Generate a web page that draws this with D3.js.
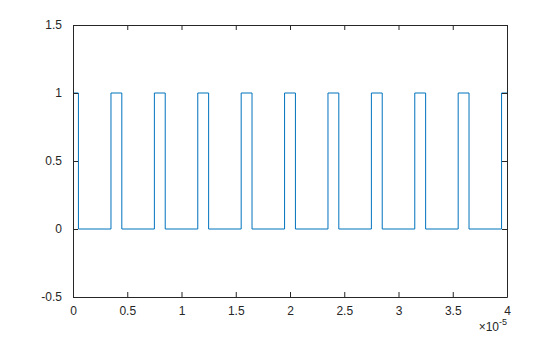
<!DOCTYPE html>
<html>
<head>
<meta charset="utf-8">
<style>
  body { margin: 0; background: #fff; }
  svg { display: block; font-family: "Liberation Sans", Arial, sans-serif; }
</style>
</head>
<body>
<svg width="560" height="337"></svg>
<script src="https://d3js.org/d3.v7.min.js"></script>
<script>
// time in units of 1e-5 s, signal level
var times = [0, 0.05, 0.05, 0.35, 0.35, 0.45, 0.45, 0.75, 0.75, 0.85, 0.85,
             1.15, 1.15, 1.25, 1.25, 1.55, 1.55, 1.65, 1.65, 1.95, 1.95,
             2.05, 2.05, 2.35, 2.35, 2.45, 2.45, 2.75, 2.75, 2.85, 2.85,
             3.15, 3.15, 3.25, 3.25, 3.55, 3.55, 3.65, 3.65, 3.95, 3.95, 4.0];
var levels = [1, 1, 0, 0, 1, 1, 0, 0, 1, 1, 0,
              0, 1, 1, 0, 0, 1, 1, 0, 0, 1,
              1, 0, 0, 1, 1, 0, 0, 1, 1, 0,
              0, 1, 1, 0, 0, 1, 1, 0, 0, 1, 1];
var xTicks = [0, 0.5, 1, 1.5, 2, 2.5, 3, 3.5, 4];
var yTicks = [-0.5, 0, 0.5, 1, 1.5];

var svg = d3.select("svg");
var plotLeft = 73, plotRight = 507, plotTop = 25, plotBottom = 297;

var x = d3.scaleLinear().domain([0, 4]).range([plotLeft, plotRight]);
var y = d3.scaleLinear().domain([-0.5, 1.5]).range([plotBottom, plotTop]);

var pts = times.map(function(t, i) { return [t, levels[i]]; });

// signal
svg.append("path")
    .datum(pts)
    .attr("fill", "none")
    .attr("stroke", "#0072BD")
    .attr("stroke-width", 1)
    .attr("d", d3.line().x(function(d) { return x(d[0]); }).y(function(d) { return y(d[1]); }));

// axes, ticks pointing inward, box on
var tl = 5;
var fmt = function(d) { return String(d); };
svg.append("g").attr("transform", "translate(0," + plotBottom + ")")
    .call(d3.axisBottom(x).tickValues(xTicks).tickSizeInner(-tl).tickSizeOuter(0).tickPadding(9).tickFormat(fmt));
svg.append("g").attr("transform", "translate(0," + plotTop + ")")
    .call(d3.axisTop(x).tickValues(xTicks).tickSizeInner(-tl).tickSizeOuter(0).tickFormat(""));
svg.append("g").attr("transform", "translate(" + plotLeft + ",0)")
    .call(d3.axisLeft(y).tickValues(yTicks).tickSizeInner(-tl).tickSizeOuter(0).tickPadding(11).tickFormat(fmt));
svg.append("g").attr("transform", "translate(" + plotRight + ",0)")
    .call(d3.axisRight(y).tickValues(yTicks).tickSizeInner(-tl).tickSizeOuter(0).tickFormat(""));

svg.selectAll(".domain").attr("stroke", "#262626");
svg.selectAll(".tick line").attr("stroke", "#262626");
svg.selectAll(".tick text").attr("font-size", 12).attr("fill", "#262626")
    .attr("font-family", "'Liberation Sans', Arial, sans-serif");

// exponent label
var ex = svg.append("text")
    .attr("x", plotRight)
    .attr("y", 331)
    .attr("text-anchor", "end")
    .attr("font-size", 12)
    .attr("fill", "#262626");
ex.append("tspan").text("\u00d710");
ex.append("tspan").attr("font-size", 9).attr("dy", -6).text("-5");
</script>
</body>
</html>
